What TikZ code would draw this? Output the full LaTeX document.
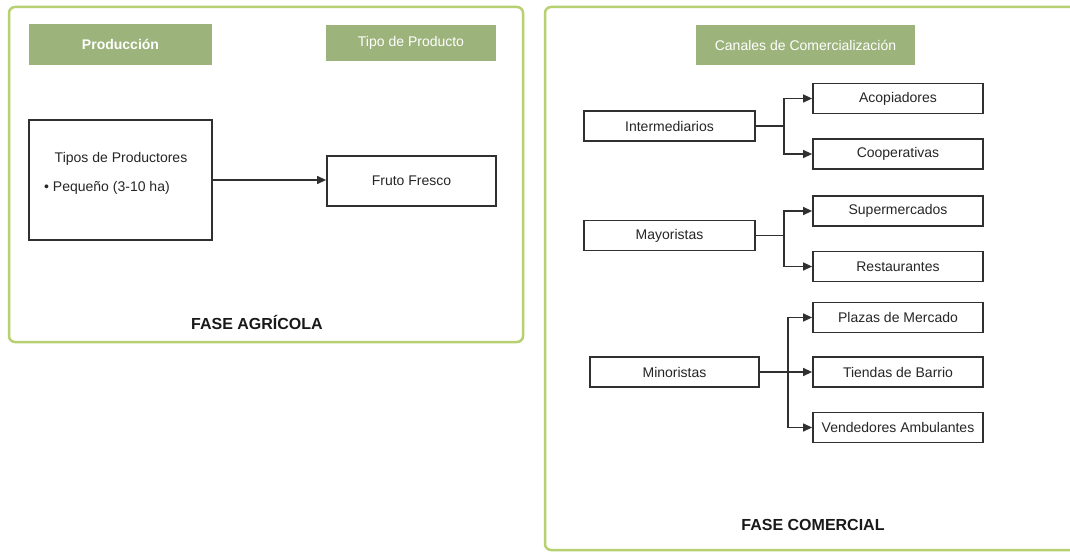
\documentclass[tikz,border=0pt]{standalone}
\usepackage{fontspec}
\setmainfont{Liberation Sans}
\usetikzlibrary{arrows.meta}
\definecolor{panelgreen}{HTML}{B7D172}
\definecolor{headgreen}{HTML}{9CB37B}
\definecolor{boxgray}{HTML}{303030}

\begin{document}
\begin{tikzpicture}[x=1pt,y=-1pt,
  panel/.style={draw=panelgreen,line width=2.5pt,rounded corners=6pt},
  header/.style={fill=headgreen,text=white,inner sep=0pt,
    font=\fontsize{14}{16}\selectfont},
  stagebox/.style={draw=boxgray,line width=1.8pt,inner sep=0pt,
    text=black!85,font=\fontsize{14}{16}\selectfont},
  plain/.style={text=black!85,inner sep=0pt,font=\fontsize{14}{16}\selectfont},
  link/.style={draw=boxgray,line width=1.3pt},
  tip/.style={-{Triangle[length=9pt,width=8pt]}},
  phase/.style={inner sep=0pt,text=black!90,font=\bfseries\fontsize{16}{18}\selectfont}]

\useasboundingbox (0,0) rectangle (1070,553);
\fill[white] (0,0) rectangle (1070,553);

% phase panels
\draw[panel] (9,7) rectangle (523,342);
\begin{scope}
  \clip (0,0) rectangle (1070,553);
  \draw[panel] (545,7) rectangle (1110,550);
\end{scope}

% ---------- agricultural phase ----------
\node[header,minimum width=183pt,minimum height=41pt,font=\bfseries\fontsize{14}{16}\selectfont]
  (prod) at (120.5,44.5) {Producción};
\node[header,minimum width=170pt,minimum height=36pt] (tipoprod) at (411,43) {Tipo de Producto};

\node[stagebox,minimum width=183pt,minimum height=120pt] (tipos) at (120.5,180) {};
\node[plain] (tiposlbl) at (121,159) {Tipos de Productores};
\node[plain,anchor=west] (peq) at (44,188) {\textbullet\ Pequeño (3-10 ha)};

\node[stagebox,minimum width=169pt,minimum height=50pt] (fruto) at (411.5,181) {Fruto Fresco};
\draw[link,tip] (tipos.east) -- (tipos.east -| fruto.west);

\node[phase] (fagr) at (257,322) {FASE AGRÍCOLA};

% ---------- commercial phase ----------
\node[header,minimum width=219pt,minimum height=40pt] (canales) at (805.5,45) {Canales de Comercialización};

\tikzset{src/.style={stagebox,minimum width=171pt,minimum height=30pt},
         dst/.style={stagebox,minimum width=170pt,minimum height=30pt}}

\node[src] (inter) at (669.5,126) {Intermediarios};
\node[dst] (acop) at (898,98.5) {Acopiadores};
\node[dst] (coop) at (898,154) {Cooperativas};

\node[src] (mayo) at (669.5,235.5) {Mayoristas};
\node[dst] (super) at (898,211) {Supermercados};
\node[dst] (rest) at (898,266.5) {Restaurantes};

\node[src,minimum width=169pt] (mino) at (674.5,372) {Minoristas};
\node[dst] (plazas) at (898,317.5) {Plazas de Mercado};
\node[dst] (tiendas) at (898,372) {Tiendas de Barrio};
\node[dst] (vend) at (898,427.5) {Vendedores Ambulantes};

% branching connectors
\coordinate (jI) at (784,126);
\draw[link] (inter.east) -- (jI);
\draw[link,tip] (jI) |- (acop.west);
\draw[link,tip] (jI) |- (coop.west);

\coordinate (jM) at (784,235.5);
\draw[link] (mayo.east) -- (jM);
\draw[link,tip] (jM) |- (super.west);
\draw[link,tip] (jM) |- (rest.west);

\coordinate (jN) at (788,372);
\draw[link,tip] (mino.east) -- (tiendas.west);
\draw[link,tip] (jN) |- (plazas.west);
\draw[link,tip] (jN) |- (vend.west);

\node[phase] (fcom) at (813,525) {FASE COMERCIAL};
\end{tikzpicture}
\end{document}
